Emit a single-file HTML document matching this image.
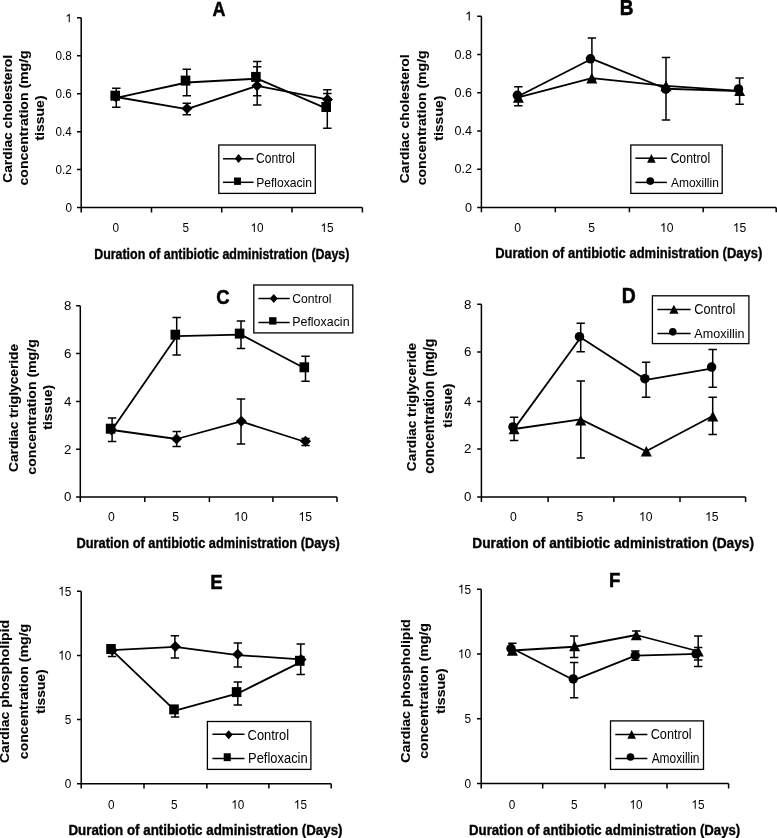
<!DOCTYPE html>
<html><head><meta charset="utf-8"><style>
html,body{margin:0;padding:0;background:#fff;}
body{width:777px;height:838px;overflow:hidden;}
svg{display:block;filter:grayscale(100%);}
text{font-family:"Liberation Sans",sans-serif;font-size:100px;fill:#000;}
text[font-weight=bold]{stroke:#000;stroke-width:2.5px;}
text.yt{stroke-width:0.8px;}
.ax{stroke:#000;stroke-width:1.5;fill:none;}
.ln{stroke:#000;stroke-width:1.8;fill:none;stroke-linejoin:round;}
.eb{stroke:#000;stroke-width:1.5;fill:none;}
.lg{stroke:#000;stroke-width:1.3;fill:#fff;}
.h{fill-opacity:0;stroke-opacity:0;}
.g1{fill:#000;}
</style></head><body>
<svg width="777" height="838" viewBox="0 0 777 838">
<path class="ax" d="M81.2 17.7V212.4M77.0 207.6H362.4"/>
<path class="ax" d="M77.0 169.62H81.2M77.0 131.64H81.2M77.0 93.66H81.2M77.0 55.68H81.2M77.0 17.70H81.2M151.5 207.6V212.4M221.7 207.6V212.4M292.0 207.6V212.4M362.4 207.6V212.4"/>
<g transform="matrix(0.117180,0,0,0.126000,65.383,212.248)"><text>0</text></g>
<g transform="matrix(0.117180,0,0,0.126000,55.610,174.268)"><text>0.2</text></g>
<g transform="matrix(0.117180,0,0,0.126000,55.610,136.288)"><text>0.4</text></g>
<g transform="matrix(0.117180,0,0,0.126000,55.610,98.308)"><text>0.6</text></g>
<g transform="matrix(0.117180,0,0,0.126000,55.610,60.328)"><text>0.8</text></g>
<g transform="matrix(0.117180,0,0,0.126000,65.383,22.348)"><text><tspan class="h">1</tspan></text><path class="g1" d="M 37.26 -0.00 L 28.47 -0.00 L 28.47 -55.08 C 26.37 -53.08 23.44 -51.07 20.02 -49.07 C 16.60 -47.07 13.57 -45.65 10.89 -44.63 L 10.89 -52.98 C 15.72 -55.27 19.97 -58.01 23.58 -61.23 C 27.20 -64.45 29.74 -67.58 31.20 -68.80 L 37.26 -68.80 Z"/></g>
<g transform="matrix(0.117887,0,0,0.126761,112.522,231.900)"><text>0</text></g>
<g transform="matrix(0.117887,0,0,0.126761,182.622,231.900)"><text>5</text></g>
<g transform="matrix(0.117887,0,0,0.126761,250.444,231.900)"><text><tspan class="h">1</tspan>0</text><path class="g1" d="M 37.26 -0.00 L 28.47 -0.00 L 28.47 -55.08 C 26.37 -53.08 23.44 -51.07 20.02 -49.07 C 16.60 -47.07 13.57 -45.65 10.89 -44.63 L 10.89 -52.98 C 15.72 -55.27 19.97 -58.01 23.58 -61.23 C 27.20 -64.45 29.74 -67.58 31.20 -68.80 L 37.26 -68.80 Z"/></g>
<g transform="matrix(0.117887,0,0,0.126761,320.444,231.900)"><text><tspan class="h">1</tspan>5</text><path class="g1" d="M 37.26 -0.00 L 28.47 -0.00 L 28.47 -55.08 C 26.37 -53.08 23.44 -51.07 20.02 -49.07 C 16.60 -47.07 13.57 -45.65 10.89 -44.63 L 10.89 -52.98 C 15.72 -55.27 19.97 -58.01 23.58 -61.23 C 27.20 -64.45 29.74 -67.58 31.20 -68.80 L 37.26 -68.80 Z"/></g>
<text transform="matrix(0.179104,0.000000,0.000000,0.205797,212.552,15.700)" font-weight="bold">A</text>
<text transform="matrix(0.124236,0.000000,0.000000,0.146377,94.192,258.500)" font-weight="bold">Duration of antibiotic administration (Days)</text>
<text class="yt" transform="matrix(0.000000,-0.137841,0.123810,0.000000,11.876,182.751)" font-weight="bold">Cardiac cholesterol</text>
<text class="yt" transform="matrix(0.000000,-0.140663,0.126203,0.000000,28.150,185.463)" font-weight="bold">concentration (mg/g</text>
<text class="yt" transform="matrix(0.000000,-0.139968,0.124064,0.000000,44.395,140.540)" font-weight="bold">tissue)</text>
<polyline class="ln" points="116.30,97.00 186.80,109.05 257.20,85.85 327.30,99.40"/>
<polyline class="ln" points="116.30,97.80 186.80,82.50 257.20,78.70 327.30,108.95"/>
<path class="eb" d="M186.80 103.30V108.50M182.60 103.30H191.00M186.80 108.50V114.80M182.60 114.80H191.00"/>
<path class="eb" d="M257.20 66.80V85.80M253.00 66.80H261.40M257.20 85.80V104.90M253.00 104.90H261.40"/>
<path class="eb" d="M327.30 93.50V99.40M323.10 93.50H331.50"/>
<path class="eb" d="M116.30 88.30V95.70M112.10 88.30H120.50M116.30 95.70V107.30M112.10 107.30H120.50"/>
<path class="eb" d="M186.80 69.20V80.60M182.60 69.20H191.00M186.80 80.60V95.80M182.60 95.80H191.00"/>
<path class="eb" d="M257.20 61.60V76.90M253.00 61.60H261.40M257.20 76.90V95.80M253.00 95.80H261.40"/>
<path class="eb" d="M327.30 89.70V107.00M323.10 89.70H331.50M327.30 107.00V128.20M323.10 128.20H331.50"/>
<path d="M116.00 91.50L121.50 97.00L116.00 102.50L110.50 97.00Z"/>
<path d="M187.00 103.00L192.50 108.50L187.00 114.00L181.50 108.50Z"/>
<path d="M257.00 80.30L262.50 85.80L257.00 91.30L251.50 85.80Z"/>
<path d="M327.50 93.90L333.00 99.40L327.50 104.90L322.00 99.40Z"/>
<rect x="110.40" y="90.70" width="9.60" height="10.00"/>
<rect x="180.70" y="75.60" width="9.60" height="10.00"/>
<rect x="251.10" y="71.90" width="9.60" height="10.00"/>
<rect x="321.40" y="102.00" width="9.60" height="10.00"/>
<rect class="lg" x="218.80" y="145.00" width="96.50" height="48.40"/>
<path class="ax" d="M223.0 158.8H253.6"/>
<path d="M238.60 154.00L242.35 158.50L238.60 163.00L234.85 158.50Z"/>
<text transform="matrix(0.121095,0.000000,0.000000,0.137415,255.995,163.163)" font-weight="normal">Control</text>
<path class="ax" d="M223.0 182.3H253.6"/>
<rect x="234.05" y="177.50" width="6.90" height="7.40"/>
<text transform="matrix(0.121029,0.000000,0.000000,0.136054,256.132,186.864)" font-weight="normal">Pefloxacin</text>
<path class="ax" d="M481.4 16.3V212.20000000000002M477.2 207.4H776.2"/>
<path class="ax" d="M477.2 169.18H481.4M477.2 130.96H481.4M477.2 92.74H481.4M477.2 54.52H481.4M477.2 16.30H481.4M555.3 207.4V212.20000000000002M629.4 207.4V212.20000000000002M703.2 207.4V212.20000000000002M776.2 207.4V212.20000000000002"/>
<g transform="matrix(0.126100,0,0,0.130000,465.087,211.589)"><text>0</text></g>
<g transform="matrix(0.126100,0,0,0.130000,454.570,173.369)"><text>0.2</text></g>
<g transform="matrix(0.126100,0,0,0.130000,454.570,135.149)"><text>0.4</text></g>
<g transform="matrix(0.126100,0,0,0.130000,454.570,96.929)"><text>0.6</text></g>
<g transform="matrix(0.126100,0,0,0.130000,454.570,58.709)"><text>0.8</text></g>
<g transform="matrix(0.126100,0,0,0.130000,465.087,20.489)"><text><tspan class="h">1</tspan></text><path class="g1" d="M 37.26 -0.00 L 28.47 -0.00 L 28.47 -55.08 C 26.37 -53.08 23.44 -51.07 20.02 -49.07 C 16.60 -47.07 13.57 -45.65 10.89 -44.63 L 10.89 -52.98 C 15.72 -55.27 19.97 -58.01 23.58 -61.23 C 27.20 -64.45 29.74 -67.58 31.20 -68.80 L 37.26 -68.80 Z"/></g>
<g transform="matrix(0.121817,0,0,0.130986,514.213,232.000)"><text>0</text></g>
<g transform="matrix(0.121817,0,0,0.130986,588.213,232.000)"><text>5</text></g>
<g transform="matrix(0.121817,0,0,0.130986,659.925,232.000)"><text><tspan class="h">1</tspan>0</text><path class="g1" d="M 37.26 -0.00 L 28.47 -0.00 L 28.47 -55.08 C 26.37 -53.08 23.44 -51.07 20.02 -49.07 C 16.60 -47.07 13.57 -45.65 10.89 -44.63 L 10.89 -52.98 C 15.72 -55.27 19.97 -58.01 23.58 -61.23 C 27.20 -64.45 29.74 -67.58 31.20 -68.80 L 37.26 -68.80 Z"/></g>
<g transform="matrix(0.121817,0,0,0.130986,732.825,232.000)"><text><tspan class="h">1</tspan>5</text><path class="g1" d="M 37.26 -0.00 L 28.47 -0.00 L 28.47 -55.08 C 26.37 -53.08 23.44 -51.07 20.02 -49.07 C 16.60 -47.07 13.57 -45.65 10.89 -44.63 L 10.89 -52.98 C 15.72 -55.27 19.97 -58.01 23.58 -61.23 C 27.20 -64.45 29.74 -67.58 31.20 -68.80 L 37.26 -68.80 Z"/></g>
<text transform="matrix(0.190164,0.000000,0.000000,0.217391,619.864,14.700)" font-weight="bold">B</text>
<text transform="matrix(0.130105,0.000000,0.000000,0.139130,495.154,258.400)" font-weight="bold">Duration of antibiotic administration (Days)</text>
<text class="yt" transform="matrix(0.000000,-0.138822,0.133333,0.000000,409.267,183.155)" font-weight="bold">Cardiac cholesterol</text>
<text class="yt" transform="matrix(0.000000,-0.140452,0.136898,0.000000,426.125,185.262)" font-weight="bold">concentration (mg/g</text>
<text class="yt" transform="matrix(0.000000,-0.140284,0.126203,0.000000,443.250,140.740)" font-weight="bold">tissue)</text>
<polyline class="ln" points="518.30,97.40 591.90,78.10 666.00,85.90 739.60,90.80"/>
<polyline class="ln" points="518.30,96.25 591.90,58.80 666.00,88.75 739.60,91.20"/>
<path class="eb" d="M518.30 86.70V95.30M514.10 86.70H522.50M518.30 95.30V105.80M514.10 105.80H522.50"/>
<path class="eb" d="M591.90 37.90V58.80M587.70 37.90H596.10M591.90 58.80V79.70M587.70 79.70H596.10"/>
<path class="eb" d="M666.00 57.60V89.20M661.80 57.60H670.20M666.00 89.20V119.90M661.80 119.90H670.20"/>
<path class="eb" d="M739.60 78.10V88.90M735.40 78.10H743.80M739.60 88.90V104.30M735.40 104.30H743.80"/>
<path d="M518.40 92.10L523.90 102.70L512.90 102.70Z"/>
<path d="M591.80 72.80L597.30 83.40L586.30 83.40Z"/>
<path d="M666.00 80.60L671.50 91.20L660.50 91.20Z"/>
<path d="M739.60 85.50L745.10 96.10L734.10 96.10Z"/>
<circle cx="517.40" cy="95.30" r="4.75"/>
<circle cx="590.50" cy="58.80" r="4.75"/>
<circle cx="665.80" cy="89.20" r="4.75"/>
<circle cx="738.50" cy="88.90" r="4.75"/>
<rect class="lg" x="630.80" y="145.00" width="91.40" height="48.40"/>
<path class="ax" d="M635.4 158.2H666.9"/>
<path d="M651.40 154.00L655.70 162.80L647.10 162.80Z"/>
<text transform="matrix(0.123349,0.000000,0.000000,0.137415,670.383,163.163)" font-weight="normal">Control</text>
<path class="ax" d="M635.4 182.4H666.9"/>
<circle cx="650.25" cy="181.05" r="3.85"/>
<text transform="matrix(0.119847,0.000000,0.000000,0.131973,670.940,186.568)" font-weight="normal">Amoxillin</text>
<path class="ax" d="M80.3 305.7V501.90000000000003M76.1 497.1H337.0"/>
<path class="ax" d="M76.1 449.25H80.3M76.1 401.40H80.3M76.1 353.55H80.3M76.1 305.70H80.3M144.8 497.1V501.90000000000003M209.4 497.1V501.90000000000003M272.9 497.1V501.90000000000003M337.0 497.1V501.90000000000003"/>
<g transform="matrix(0.133000,0,0,0.133000,64.003,501.395)"><text>0</text></g>
<g transform="matrix(0.133000,0,0,0.133000,64.003,453.545)"><text>2</text></g>
<g transform="matrix(0.133000,0,0,0.133000,64.003,405.695)"><text>4</text></g>
<g transform="matrix(0.133000,0,0,0.133000,64.003,357.845)"><text>6</text></g>
<g transform="matrix(0.133000,0,0,0.133000,64.003,309.995)"><text>8</text></g>
<g transform="matrix(0.121817,0,0,0.130986,108.013,521.000)"><text>0</text></g>
<g transform="matrix(0.121817,0,0,0.130986,172.213,521.000)"><text>5</text></g>
<g transform="matrix(0.121817,0,0,0.130986,234.125,521.000)"><text><tspan class="h">1</tspan>0</text><path class="g1" d="M 37.26 -0.00 L 28.47 -0.00 L 28.47 -55.08 C 26.37 -53.08 23.44 -51.07 20.02 -49.07 C 16.60 -47.07 13.57 -45.65 10.89 -44.63 L 10.89 -52.98 C 15.72 -55.27 19.97 -58.01 23.58 -61.23 C 27.20 -64.45 29.74 -67.58 31.20 -68.80 L 37.26 -68.80 Z"/></g>
<g transform="matrix(0.121817,0,0,0.130986,298.425,521.000)"><text><tspan class="h">1</tspan>5</text><path class="g1" d="M 37.26 -0.00 L 28.47 -0.00 L 28.47 -55.08 C 26.37 -53.08 23.44 -51.07 20.02 -49.07 C 16.60 -47.07 13.57 -45.65 10.89 -44.63 L 10.89 -52.98 C 15.72 -55.27 19.97 -58.01 23.58 -61.23 C 27.20 -64.45 29.74 -67.58 31.20 -68.80 L 37.26 -68.80 Z"/></g>
<text transform="matrix(0.184733,0.000000,0.000000,0.209859,216.261,303.790)" font-weight="bold">C</text>
<text transform="matrix(0.128198,0.000000,0.000000,0.147826,76.467,547.900)" font-weight="bold">Duration of antibiotic administration (Days)</text>
<text class="yt" transform="matrix(0.000000,-0.137257,0.122995,0.000000,18.217,471.949)" font-weight="bold">Cardiac triglyceride</text>
<text class="yt" transform="matrix(0.000000,-0.141084,0.124064,0.000000,35.595,474.664)" font-weight="bold">concentration (mg/g</text>
<text class="yt" transform="matrix(0.000000,-0.139968,0.126203,0.000000,52.350,429.840)" font-weight="bold">tissue)</text>
<polyline class="ln" points="112.10,430.00 176.70,439.00 241.00,421.45 305.50,442.00"/>
<polyline class="ln" points="112.10,429.75 176.70,336.15 241.00,334.65 305.50,368.75"/>
<path class="eb" d="M176.70 431.50V439.00M172.50 431.50H180.90M176.70 439.00V446.50M172.50 446.50H180.90"/>
<path class="eb" d="M241.00 399.00V421.30M236.80 399.00H245.20M241.00 421.30V443.90M236.80 443.90H245.20"/>
<path class="eb" d="M305.50 438.50V441.30M301.30 438.50H309.70M305.50 441.30V445.50M301.30 445.50H309.70"/>
<path class="eb" d="M112.10 417.90V428.70M107.90 417.90H116.30M112.10 428.70V441.60M107.90 441.60H116.30"/>
<path class="eb" d="M176.70 317.40V334.70M172.50 317.40H180.90M176.70 334.70V354.90M172.50 354.90H180.90"/>
<path class="eb" d="M241.00 320.90V333.60M236.80 320.90H245.20M241.00 333.60V348.40M236.80 348.40H245.20"/>
<path class="eb" d="M305.50 356.20V367.30M301.30 356.20H309.70M305.50 367.30V381.30M301.30 381.30H309.70"/>
<path d="M111.50 424.50L117.00 430.00L111.50 435.50L106.00 430.00Z"/>
<path d="M176.50 433.50L182.00 439.00L176.50 444.50L171.00 439.00Z"/>
<path d="M241.30 415.80L246.80 421.30L241.30 426.80L235.80 421.30Z"/>
<path d="M305.50 435.80L311.00 441.30L305.50 446.80L300.00 441.30Z"/>
<rect x="105.80" y="423.70" width="9.60" height="10.00"/>
<rect x="170.50" y="329.70" width="9.60" height="10.00"/>
<rect x="234.80" y="328.60" width="9.60" height="10.00"/>
<rect x="299.50" y="362.30" width="9.60" height="10.00"/>
<rect class="lg" x="253.80" y="285.00" width="99.00" height="47.90"/>
<path class="ax" d="M258.4 298.5H289.7"/>
<path d="M273.75 294.10L277.70 298.50L273.75 302.90L269.80 298.50Z"/>
<text transform="matrix(0.121739,0.000000,0.000000,0.136054,292.291,302.664)" font-weight="normal">Control</text>
<path class="ax" d="M258.4 322.5H289.7"/>
<rect x="269.10" y="317.20" width="7.40" height="7.40"/>
<text transform="matrix(0.124385,0.000000,0.000000,0.131973,292.205,326.268)" font-weight="normal">Pefloxacin</text>
<path class="ax" d="M481.4 304.3V501.90000000000003M477.2 497.1H745.6"/>
<path class="ax" d="M477.2 449.00H481.4M477.2 401.40H481.4M477.2 351.90H481.4M477.2 304.30H481.4M548.1 497.1V501.90000000000003M613.9 497.1V501.90000000000003M680.0 497.1V501.90000000000003M745.6 497.1V501.90000000000003"/>
<g transform="matrix(0.133000,0,0,0.133000,464.003,501.395)"><text>0</text></g>
<g transform="matrix(0.133000,0,0,0.133000,464.003,453.295)"><text>2</text></g>
<g transform="matrix(0.133000,0,0,0.133000,464.003,405.695)"><text>4</text></g>
<g transform="matrix(0.133000,0,0,0.133000,464.003,356.195)"><text>6</text></g>
<g transform="matrix(0.133000,0,0,0.133000,464.003,308.595)"><text>8</text></g>
<g transform="matrix(0.121817,0,0,0.130986,510.113,521.000)"><text>0</text></g>
<g transform="matrix(0.121817,0,0,0.130986,576.413,521.000)"><text>5</text></g>
<g transform="matrix(0.121817,0,0,0.130986,638.925,521.000)"><text><tspan class="h">1</tspan>0</text><path class="g1" d="M 37.26 -0.00 L 28.47 -0.00 L 28.47 -55.08 C 26.37 -53.08 23.44 -51.07 20.02 -49.07 C 16.60 -47.07 13.57 -45.65 10.89 -44.63 L 10.89 -52.98 C 15.72 -55.27 19.97 -58.01 23.58 -61.23 C 27.20 -64.45 29.74 -67.58 31.20 -68.80 L 37.26 -68.80 Z"/></g>
<g transform="matrix(0.121817,0,0,0.130986,705.025,521.000)"><text><tspan class="h">1</tspan>5</text><path class="g1" d="M 37.26 -0.00 L 28.47 -0.00 L 28.47 -55.08 C 26.37 -53.08 23.44 -51.07 20.02 -49.07 C 16.60 -47.07 13.57 -45.65 10.89 -44.63 L 10.89 -52.98 C 15.72 -55.27 19.97 -58.01 23.58 -61.23 C 27.20 -64.45 29.74 -67.58 31.20 -68.80 L 37.26 -68.80 Z"/></g>
<text transform="matrix(0.193496,0.000000,0.000000,0.213043,621.842,302.700)" font-weight="bold">D</text>
<text transform="matrix(0.137099,0.000000,0.000000,0.147826,472.309,547.900)" font-weight="bold">Duration of antibiotic administration (Days)</text>
<text class="yt" transform="matrix(0.000000,-0.137689,0.132620,0.000000,415.715,471.151)" font-weight="bold">Cardiac triglyceride</text>
<text class="yt" transform="matrix(0.000000,-0.140978,0.144385,0.000000,433.668,473.864)" font-weight="bold">concentration (mg/g</text>
<text class="yt" transform="matrix(0.000000,-0.137125,0.134759,0.000000,452.070,427.737)" font-weight="bold">tissue)</text>
<polyline class="ln" points="514.10,429.00 580.80,419.40 646.10,451.20 712.70,415.95"/>
<polyline class="ln" points="514.10,428.90 580.70,337.50 646.10,379.80 712.70,368.30"/>
<path class="eb" d="M580.80 380.90V420.20M576.60 380.90H585.00M580.80 420.20V457.90M576.60 457.90H585.00"/>
<path class="eb" d="M712.70 397.30V416.20M708.50 397.30H716.90M712.70 416.20V434.60M708.50 434.60H716.90"/>
<path class="eb" d="M514.10 417.30V426.90M509.90 417.30H518.30M514.10 426.90V440.50M509.90 440.50H518.30"/>
<path class="eb" d="M580.70 323.20V336.70M576.50 323.20H584.90M580.70 336.70V351.80M576.50 351.80H584.90"/>
<path class="eb" d="M646.10 362.30V378.70M641.90 362.30H650.30M646.10 378.70V397.30M641.90 397.30H650.30"/>
<path class="eb" d="M712.70 349.40V367.10M708.50 349.40H716.90M712.70 367.10V387.20M708.50 387.20H716.90"/>
<path d="M514.10 423.70L519.60 434.30L508.60 434.30Z"/>
<path d="M580.70 414.90L586.20 425.50L575.20 425.50Z"/>
<path d="M646.30 445.90L651.80 456.50L640.80 456.50Z"/>
<path d="M712.80 410.90L718.30 421.50L707.30 421.50Z"/>
<circle cx="513.00" cy="426.90" r="4.75"/>
<circle cx="579.50" cy="336.70" r="4.75"/>
<circle cx="644.90" cy="378.70" r="4.75"/>
<circle cx="711.60" cy="367.10" r="4.75"/>
<rect class="lg" x="652.40" y="295.80" width="96.50" height="47.80"/>
<path class="ax" d="M657.4 309.4H690.6"/>
<path d="M673.90 304.80L678.55 313.80L669.25 313.80Z"/>
<text transform="matrix(0.127858,0.000000,0.000000,0.138775,694.161,313.561)" font-weight="normal">Control</text>
<path class="ax" d="M657.4 333.4H690.6"/>
<circle cx="672.80" cy="331.85" r="3.80"/>
<text transform="matrix(0.125700,0.000000,0.000000,0.131973,694.337,337.768)" font-weight="normal">Amoxillin</text>
<path class="ax" d="M81.2 591.3V788.5M77.0 783.7H331.2"/>
<path class="ax" d="M77.0 719.57H81.2M77.0 655.43H81.2M77.0 591.30H81.2M144.0 783.7V788.5M206.9 783.7V788.5M268.9 783.7V788.5M331.2 783.7V788.5"/>
<g transform="matrix(0.118370,0,0,0.133000,64.817,787.995)"><text>0</text></g>
<g transform="matrix(0.118370,0,0,0.133000,64.817,723.862)"><text>5</text></g>
<g transform="matrix(0.118370,0,0,0.133000,58.234,659.728)"><text><tspan class="h">1</tspan>0</text><path class="g1" d="M 37.26 -0.00 L 28.47 -0.00 L 28.47 -55.08 C 26.37 -53.08 23.44 -51.07 20.02 -49.07 C 16.60 -47.07 13.57 -45.65 10.89 -44.63 L 10.89 -52.98 C 15.72 -55.27 19.97 -58.01 23.58 -61.23 C 27.20 -64.45 29.74 -67.58 31.20 -68.80 L 37.26 -68.80 Z"/></g>
<g transform="matrix(0.118370,0,0,0.133000,58.234,595.595)"><text><tspan class="h">1</tspan>5</text><path class="g1" d="M 37.26 -0.00 L 28.47 -0.00 L 28.47 -55.08 C 26.37 -53.08 23.44 -51.07 20.02 -49.07 C 16.60 -47.07 13.57 -45.65 10.89 -44.63 L 10.89 -52.98 C 15.72 -55.27 19.97 -58.01 23.58 -61.23 C 27.20 -64.45 29.74 -67.58 31.20 -68.80 L 37.26 -68.80 Z"/></g>
<g transform="matrix(0.117887,0,0,0.126761,108.122,808.700)"><text>0</text></g>
<g transform="matrix(0.117887,0,0,0.126761,170.922,808.700)"><text>5</text></g>
<g transform="matrix(0.117887,0,0,0.126761,231.244,808.700)"><text><tspan class="h">1</tspan>0</text><path class="g1" d="M 37.26 -0.00 L 28.47 -0.00 L 28.47 -55.08 C 26.37 -53.08 23.44 -51.07 20.02 -49.07 C 16.60 -47.07 13.57 -45.65 10.89 -44.63 L 10.89 -52.98 C 15.72 -55.27 19.97 -58.01 23.58 -61.23 C 27.20 -64.45 29.74 -67.58 31.20 -68.80 L 37.26 -68.80 Z"/></g>
<g transform="matrix(0.117887,0,0,0.126761,293.844,808.700)"><text><tspan class="h">1</tspan>5</text><path class="g1" d="M 37.26 -0.00 L 28.47 -0.00 L 28.47 -55.08 C 26.37 -53.08 23.44 -51.07 20.02 -49.07 C 16.60 -47.07 13.57 -45.65 10.89 -44.63 L 10.89 -52.98 C 15.72 -55.27 19.97 -58.01 23.58 -61.23 C 27.20 -64.45 29.74 -67.58 31.20 -68.80 L 37.26 -68.80 Z"/></g>
<text transform="matrix(0.185841,0.000000,0.000000,0.204348,210.192,589.000)" font-weight="bold">E</text>
<text transform="matrix(0.133529,0.000000,0.000000,0.142029,68.432,834.500)" font-weight="bold">Duration of antibiotic administration (Days)</text>
<text class="yt" transform="matrix(0.000000,-0.140089,0.131551,0.000000,9.237,763.060)" font-weight="bold">Cardiac phospholipid</text>
<text class="yt" transform="matrix(0.000000,-0.140873,0.132620,0.000000,27.715,759.163)" font-weight="bold">concentration (mg/g</text>
<text class="yt" transform="matrix(0.000000,-0.138073,0.126203,0.000000,45.250,713.838)" font-weight="bold">tissue)</text>
<polyline class="ln" points="112.10,650.20 174.90,646.95 237.80,655.05 300.70,659.40"/>
<polyline class="ln" points="112.10,650.30 175.10,710.70 237.80,693.45 300.70,662.10"/>
<path class="eb" d="M174.90 635.80V646.50M170.70 635.80H179.10M174.90 646.50V658.10M170.70 658.10H179.10"/>
<path class="eb" d="M237.80 643.00V654.20M233.60 643.00H242.00M237.80 654.20V667.10M233.60 667.10H242.00"/>
<path class="eb" d="M112.10 649.00V656.60M107.90 656.60H116.30"/>
<path class="eb" d="M175.10 709.40V717.00M170.90 717.00H179.30"/>
<path class="eb" d="M237.80 682.00V692.10M233.60 682.00H242.00M237.80 692.10V704.90M233.60 704.90H242.00"/>
<path class="eb" d="M300.70 644.00V660.80M296.50 644.00H304.90M300.70 660.80V674.40M296.50 674.40H304.90"/>
<path d="M112.30 644.70L117.80 650.20L112.30 655.70L106.80 650.20Z"/>
<path d="M175.30 641.00L180.80 646.50L175.30 652.00L169.80 646.50Z"/>
<path d="M237.70 648.70L243.20 654.20L237.70 659.70L232.20 654.20Z"/>
<path d="M301.00 653.90L306.50 659.40L301.00 664.90L295.50 659.40Z"/>
<rect x="106.20" y="644.00" width="9.60" height="10.00"/>
<rect x="169.20" y="704.40" width="9.60" height="10.00"/>
<rect x="231.80" y="687.10" width="9.60" height="10.00"/>
<rect x="295.00" y="655.80" width="9.60" height="10.00"/>
<rect class="lg" x="207.40" y="721.50" width="103.50" height="47.90"/>
<path class="ax" d="M212.4 734.3H244.5"/>
<path d="M228.70 730.35L232.65 734.80L228.70 739.25L224.75 734.80Z"/>
<text transform="matrix(0.129146,0.000000,0.000000,0.142857,247.554,739.557)" font-weight="normal">Control</text>
<path class="ax" d="M212.4 758.5H244.5"/>
<rect x="223.70" y="753.25" width="7.10" height="7.90"/>
<text transform="matrix(0.129306,0.000000,0.000000,0.137415,248.066,762.763)" font-weight="normal">Pefloxacin</text>
<path class="ax" d="M481.2 589.3V788.4M477.0 783.6H728.6"/>
<path class="ax" d="M477.0 718.83H481.2M477.0 654.07H481.2M477.0 589.30H481.2M542.7 783.6V788.4M605.0 783.6V788.4M667.0 783.6V788.4M728.6 783.6V788.4"/>
<g transform="matrix(0.118370,0,0,0.133000,464.517,787.895)"><text>0</text></g>
<g transform="matrix(0.118370,0,0,0.133000,464.517,723.128)"><text>5</text></g>
<g transform="matrix(0.118370,0,0,0.133000,457.934,658.362)"><text><tspan class="h">1</tspan>0</text><path class="g1" d="M 37.26 -0.00 L 28.47 -0.00 L 28.47 -55.08 C 26.37 -53.08 23.44 -51.07 20.02 -49.07 C 16.60 -47.07 13.57 -45.65 10.89 -44.63 L 10.89 -52.98 C 15.72 -55.27 19.97 -58.01 23.58 -61.23 C 27.20 -64.45 29.74 -67.58 31.20 -68.80 L 37.26 -68.80 Z"/></g>
<g transform="matrix(0.118370,0,0,0.133000,457.934,593.595)"><text><tspan class="h">1</tspan>5</text><path class="g1" d="M 37.26 -0.00 L 28.47 -0.00 L 28.47 -55.08 C 26.37 -53.08 23.44 -51.07 20.02 -49.07 C 16.60 -47.07 13.57 -45.65 10.89 -44.63 L 10.89 -52.98 C 15.72 -55.27 19.97 -58.01 23.58 -61.23 C 27.20 -64.45 29.74 -67.58 31.20 -68.80 L 37.26 -68.80 Z"/></g>
<g transform="matrix(0.117887,0,0,0.126761,508.822,808.700)"><text>0</text></g>
<g transform="matrix(0.117887,0,0,0.126761,570.922,808.700)"><text>5</text></g>
<g transform="matrix(0.117887,0,0,0.126761,629.444,808.700)"><text><tspan class="h">1</tspan>0</text><path class="g1" d="M 37.26 -0.00 L 28.47 -0.00 L 28.47 -55.08 C 26.37 -53.08 23.44 -51.07 20.02 -49.07 C 16.60 -47.07 13.57 -45.65 10.89 -44.63 L 10.89 -52.98 C 15.72 -55.27 19.97 -58.01 23.58 -61.23 C 27.20 -64.45 29.74 -67.58 31.20 -68.80 L 37.26 -68.80 Z"/></g>
<g transform="matrix(0.117887,0,0,0.126761,691.344,808.700)"><text><tspan class="h">1</tspan>5</text><path class="g1" d="M 37.26 -0.00 L 28.47 -0.00 L 28.47 -55.08 C 26.37 -53.08 23.44 -51.07 20.02 -49.07 C 16.60 -47.07 13.57 -45.65 10.89 -44.63 L 10.89 -52.98 C 15.72 -55.27 19.97 -58.01 23.58 -61.23 C 27.20 -64.45 29.74 -67.58 31.20 -68.80 L 37.26 -68.80 Z"/></g>
<text transform="matrix(0.186275,0.000000,0.000000,0.205797,609.089,587.000)" font-weight="bold">F</text>
<text transform="matrix(0.132013,0.000000,0.000000,0.142029,469.042,834.500)" font-weight="bold">Duration of antibiotic administration (Days)</text>
<text class="yt" transform="matrix(0.000000,-0.140583,0.127273,0.000000,410.227,762.662)" font-weight="bold">Cardiac phospholipid</text>
<text class="yt" transform="matrix(0.000000,-0.141399,0.135829,0.000000,428.048,758.866)" font-weight="bold">concentration (mg/g</text>
<text class="yt" transform="matrix(0.000000,-0.141232,0.127273,0.000000,445.327,713.841)" font-weight="bold">tissue)</text>
<polyline class="ln" points="512.40,650.50 574.10,646.75 636.30,635.00 698.20,651.25"/>
<polyline class="ln" points="512.40,648.50 574.10,680.20 635.30,655.65 698.20,653.80"/>
<path class="eb" d="M574.10 636.00V645.90M569.90 636.00H578.30M574.10 645.90V657.50M569.90 657.50H578.30"/>
<path class="eb" d="M636.30 631.00V635.00M632.10 631.00H640.50M636.30 635.00V639.00M632.10 639.00H640.50"/>
<path class="eb" d="M698.20 635.90V651.20M694.00 635.90H702.40M698.20 651.20V666.60M694.00 666.60H702.40"/>
<path class="eb" d="M512.40 643.30V648.50M508.20 643.30H516.60M512.40 648.50V653.70M508.20 653.70H516.60"/>
<path class="eb" d="M574.10 662.60V678.90M569.90 662.60H578.30M574.10 678.90V697.80M569.90 697.80H578.30"/>
<path class="eb" d="M635.30 651.00V655.50M631.10 651.00H639.50M635.30 655.50V660.30M631.10 660.30H639.50"/>
<path class="eb" d="M698.20 647.50V653.80M694.00 647.50H702.40M698.20 653.80V660.10M694.00 660.10H702.40"/>
<path d="M512.40 645.20L517.90 655.80L506.90 655.80Z"/>
<path d="M574.60 640.60L580.10 651.20L569.10 651.20Z"/>
<path d="M636.30 629.70L641.80 640.30L630.80 640.30Z"/>
<path d="M698.20 645.90L703.70 656.50L692.70 656.50Z"/>
<circle cx="511.00" cy="648.50" r="4.75"/>
<circle cx="573.30" cy="678.90" r="4.75"/>
<circle cx="635.30" cy="655.50" r="4.75"/>
<circle cx="696.10" cy="653.80" r="4.75"/>
<rect class="lg" x="610.50" y="720.90" width="93.00" height="48.50"/>
<path class="ax" d="M615.3 734.6H647.4"/>
<path d="M631.65 730.00L635.90 738.80L627.40 738.80Z"/>
<text transform="matrix(0.127214,0.000000,0.000000,0.140136,650.664,739.060)" font-weight="normal">Control</text>
<path class="ax" d="M615.3 758.5H647.4"/>
<circle cx="630.45" cy="757.00" r="3.80"/>
<text transform="matrix(0.119847,0.000000,0.000000,0.137415,651.640,762.763)" font-weight="normal">Amoxillin</text>
</svg>
</body></html>
